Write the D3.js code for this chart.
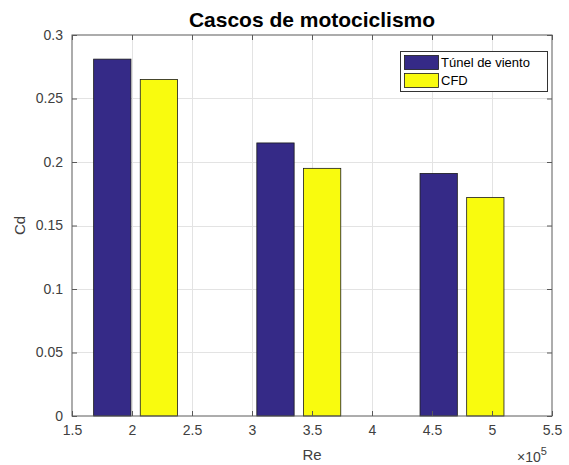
<!DOCTYPE html>
<html>
<head>
<meta charset="utf-8">
<script src="https://cdn.jsdelivr.net/npm/d3@7"></script>
<style>
  html, body { margin: 0; padding: 0; background: #fff; }
  svg { display: block; }
  text { font-family: Arial, "Liberation Sans", Helvetica, sans-serif; }
</style>
</head>
<body>
<div id="chart"></div>
<script>
// ---- data ----
const reValues = [2.03, 3.39, 4.75];          // Re (x 10^5)
const seriesNames = ["Túnel de viento", "CFD"];
const tunelValues = [0.281, 0.215, 0.191];
const cfdValues = [0.265, 0.195, 0.172];
const xTicks = [1.5, 2, 2.5, 3, 3.5, 4, 4.5, 5, 5.5];
const yTicks = [0, 0.05, 0.1, 0.15, 0.2, 0.25, 0.3];
const colors = ["#352a87", "#f9fb0e"];

const W = 569, H = 465;
const margin = { left: 72, right: W - 552, top: 35, bottom: H - 416 };

const svg = d3.select("#chart").append("svg").attr("width", W).attr("height", H);

const x = d3.scaleLinear().domain([1.5, 5.5]).range([margin.left, W - margin.right]);
const y = d3.scaleLinear().domain([0, 0.3]).range([H - margin.bottom, margin.top]);

const axisColor = "#5a5a5a", textColor = "#404040", gridColor = "#e3e3e3";

// grid
const g = svg.append("g");
g.selectAll(".gx").data(xTicks.slice(1, -1)).enter().append("line")
  .attr("x1", d => x(d) + 0.5).attr("x2", d => x(d) + 0.5)
  .attr("y1", y(0)).attr("y2", y(0.3)).attr("stroke", gridColor).attr("stroke-width", 1);
g.selectAll(".gy").data(yTicks.slice(1, -1)).enter().append("line")
  .attr("y1", d => Math.round(y(d)) + 0.5).attr("y2", d => Math.round(y(d)) + 0.5)
  .attr("x1", x(1.5)).attr("x2", x(5.5)).attr("stroke", gridColor).attr("stroke-width", 1);

// bars (MATLAB grouped layout)
const spacing = reValues[1] - reValues[0];
const groupWidth = Math.min(0.8, 2 / 3.5) * spacing;
const barW = groupWidth / 2 * 0.8;
const series = [tunelValues, cfdValues];
series.forEach((vals, si) => {
  const off = (si - 0.5) * groupWidth / 2;
  svg.append("g").selectAll("rect").data(vals).enter().append("rect")
    .attr("x", (d, i) => x(reValues[i] + off - barW / 2))
    .attr("width", (d, i) => x(reValues[i] + off + barW / 2) - x(reValues[i] + off - barW / 2))
    .attr("y", d => y(d))
    .attr("height", d => y(0) - y(d))
    .attr("fill", colors[si])
    .attr("stroke", "#1a1a1a").attr("stroke-width", 0.8);
});

// axes
const xAxisB = d3.axisBottom(x).tickValues(xTicks).tickSize(-5).tickPadding(9).tickFormat(d3.format("~g"));
const xAxisT = d3.axisTop(x).tickValues(xTicks).tickSize(-5).tickFormat("");
const yAxisL = d3.axisLeft(y).tickValues(yTicks).tickSize(-5).tickPadding(9).tickFormat(d3.format("~g"));
const yAxisR = d3.axisRight(y).tickValues(yTicks).tickSize(-5).tickFormat("");

function style(sel) {
  sel.select(".domain").attr("stroke", axisColor);
  sel.selectAll(".tick line").attr("stroke", axisColor);
  sel.selectAll(".tick text").attr("fill", textColor).style("font-size", "14px")
    .style("font-family", "Arial, 'Liberation Sans', sans-serif");
}
svg.append("g").attr("transform", `translate(0,${y(0)})`).call(xAxisB).call(style)
  .selectAll(".tick text").attr("dy", "0.71em");
svg.append("g").attr("transform", `translate(0,${y(0.3)})`).call(xAxisT).call(style);
svg.append("g").attr("transform", `translate(${x(1.5)},0)`).call(yAxisL).call(style);
svg.append("g").attr("transform", `translate(${x(5.5)},0)`).call(yAxisR).call(style);
svg.selectAll(".domain").attr("d", null);
svg.append("rect").attr("x", x(1.5)).attr("y", y(0.3))
  .attr("width", x(5.5) - x(1.5)).attr("height", y(0) - y(0.3))
  .attr("fill", "none").attr("stroke", axisColor).attr("stroke-width", 1);

// title
svg.append("text").attr("x", (x(1.5) + x(5.5)) / 2).attr("y", 27)
  .attr("text-anchor", "middle").style("font-size", "21px").style("font-weight", "bold")
  .attr("fill", "#000").text("Cascos de motociclismo");

// axis labels
svg.append("text").attr("x", (x(1.5) + x(5.5)) / 2).attr("y", 460)
  .attr("text-anchor", "middle").style("font-size", "15px").attr("fill", textColor).text("Re");
svg.append("text").attr("transform", `translate(25,${(y(0) + y(0.3)) / 2}) rotate(-90)`)
  .attr("text-anchor", "middle").style("font-size", "15px").attr("fill", textColor).text("Cd");

// exponent
const ex = svg.append("text").attr("x", 517).attr("y", 462).attr("fill", textColor).style("font-size", "14px");
ex.append("tspan").text("×10");
ex.append("tspan").attr("dy", -7).style("font-size", "11px").text("5");

// legend
const lg = svg.append("g");
lg.append("rect").attr("x", 400.5).attr("y", 51.5).attr("width", 147).attr("height", 40)
  .attr("fill", "#fff").attr("stroke", "#333").attr("stroke-width", 1);
seriesNames.forEach((name, i) => {
  lg.append("rect").attr("x", 404.5).attr("y", 55.5 + i * 18).attr("width", 34).attr("height", 14)
    .attr("fill", colors[i]).attr("stroke", "#1a1a1a").attr("stroke-width", 0.8);
  lg.append("text").attr("x", 441).attr("y", 67 + i * 18).style("font-size", "13px")
    .attr("fill", "#000").text(name);
});
</script>
</body>
</html>
